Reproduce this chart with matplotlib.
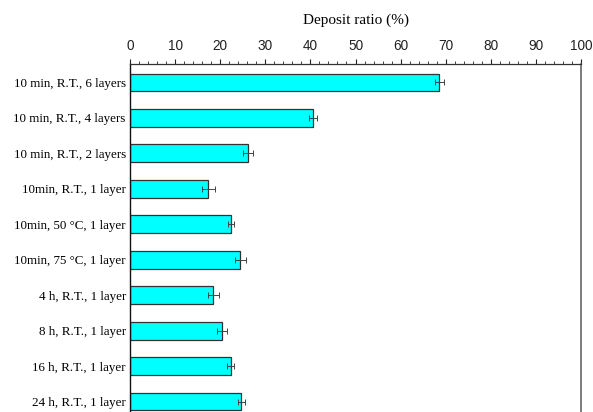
import matplotlib
matplotlib.use("Agg")
import matplotlib.pyplot as plt
from matplotlib.ticker import MultipleLocator

conditions = [
    "10 min, R.T., 6 layers",
    "10 min, R.T., 4 layers",
    "10 min, R.T., 2 layers",
    "10min, R.T., 1 layer",
    "10min, 50 \u00b0C, 1 layer",
    "10min, 75 \u00b0C, 1 layer",
    "4 h, R.T., 1 layer",
    "8 h, R.T., 1 layer",
    "16 h, R.T., 1 layer",
    "24 h, R.T., 1 layer",
]
deposit_ratio = [68.6, 40.6, 26.2, 17.4, 22.4, 24.5, 18.5, 20.3, 22.3, 24.7]
deposit_err = [1.0, 0.9, 1.1, 1.4, 0.6, 1.2, 1.3, 1.1, 0.7, 0.7]

fig = plt.figure(figsize=(5.93, 4.12), dpi=100)
ax = fig.add_axes([0.2192, -0.0194, 0.7606, 0.8641])

ypos = list(range(len(conditions)))
ax.barh(ypos, deposit_ratio, height=0.5, color="#00FFFF", edgecolor="#333333",
        linewidth=0.9, xerr=deposit_err,
        error_kw=dict(ecolor="#444444", elinewidth=0.7, capsize=2.5, capthick=0.7))

ax.set_xlim(0, 100)
ax.set_ylim(len(conditions) - 0.48, -0.52)

ax.xaxis.set_ticks_position("top")
ax.xaxis.set_label_position("top")
ax.xaxis.set_major_locator(MultipleLocator(10))
ax.xaxis.set_minor_locator(MultipleLocator(2))
ax.tick_params(axis="x", which="major", direction="out", length=3.8, width=0.8,
               labelsize=9.8, pad=4, colors="#222222")
ax.tick_params(axis="x", which="minor", direction="out", length=1.9, width=0.6,
               colors="#222222")
for lbl in ax.get_xticklabels():
    lbl.set_fontfamily("Liberation Sans")
ax.set_xlabel("Deposit ratio (%)", fontfamily="Liberation Serif", fontsize=11,
              labelpad=11)

ax.set_yticks(ypos)
ax.set_yticklabels(conditions, fontfamily="Liberation Serif", fontsize=9.4)
ax.tick_params(axis="y", length=0, pad=3)

ax.spines["left"].set_color("#111111")
ax.spines["left"].set_linewidth(1.0)
ax.spines["top"].set_color("#333333")
ax.spines["top"].set_linewidth(0.9)
ax.spines["right"].set_color("#666666")
ax.spines["right"].set_linewidth(1.2)
ax.spines["bottom"].set_visible(False)

fig.savefig("out.png", dpi=100)
